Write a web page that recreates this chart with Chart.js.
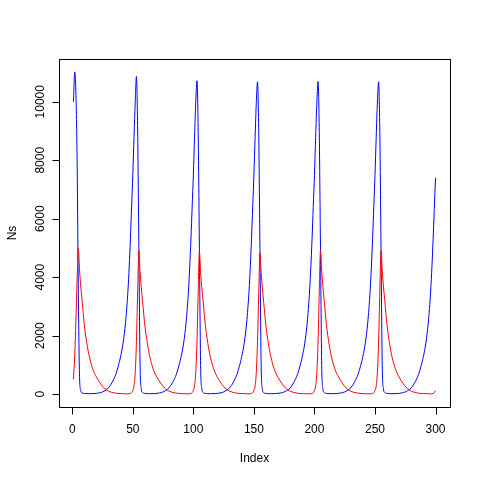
<!DOCTYPE html>
<html>
<head>
<meta charset="utf-8">
<script src="https://cdn.jsdelivr.net/npm/chart.js@4"></script>
<style>
  html, body { margin:0; padding:0; background:#fff; }
  #wrap { width:480px; height:480px; }
</style>
</head>
<body>
<div id="wrap"><canvas id="c" width="480" height="480"></canvas></div>
<script>
// prey (Ns, blue), index -> value
const blueX = [
  1,2,3,4,5,6,7,8,10,14,18,22,25,27,30,33,36,38,40,42,44,45,46,47,48,49,50,51,52,
  53,54,55,56,57,58,60,64,68,72,75,77,80,83,86,88,90,92,94,95,96,97,98,99,100,101,102,
  103,104,105,106,107,108,110,114,118,122,125,127,130,133,136,138,140,142,144,145,146,147,148,149,150,151,152,
  153,154,155,156,157,158,160,164,168,172,175,177,180,183,186,188,190,192,194,195,196,197,198,199,200,201,202,
  203,204,205,206,207,208,210,214,218,222,225,227,230,233,236,238,240,242,244,245,246,247,248,249,250,251,252,
  253,254,255,256,257,258,260,264,268,272,275,277,280,283,286,288,290,292,294,295,296,297,298,299,300
];
const blueY = [
  10000,11020,10300,8000,3500,600,120,45,25,15,20,40,75,120,220,410,680,960,1300,1750,2450,2950,3550,4350,5300,6400,7500,8800,10000,
  10870,9000,5000,1000,180,55,25,15,20,40,75,120,220,410,680,960,1300,1750,2450,2950,3550,4350,5300,6400,7500,8800,10000,
  10720,8950,4950,980,175,55,25,15,20,40,75,120,215,405,675,950,1290,1740,2430,2930,3530,4330,5280,6380,7480,8780,9980,
  10680,8950,4950,980,175,55,25,15,20,40,75,120,215,405,675,950,1290,1740,2430,2930,3530,4330,5280,6380,7480,8780,9990,
  10690,8950,4950,980,175,55,25,15,20,40,75,120,215,405,675,950,1290,1740,2430,2930,3530,4330,5280,6380,7480,8780,9990,
  10680,8950,4950,980,175,55,25,15,20,40,75,120,215,405,675,950,1290,1740,2430,2930,3530,4330,5280,6350,7400
];

// predator (red)
const redX = [
  1,2,3,4,5,6,7,8,10,12,14,17,20,23,26,30,35,40,45,47,48,49,50,51,52,53,54,
  55,56,57,58,60,62,64,67,70,73,76,80,85,90,95,97,98,99,100,101,102,103,104,
  105,106,107,108,110,112,114,117,120,123,126,130,135,140,145,147,148,149,150,151,152,153,154,
  155,156,157,158,160,162,164,167,170,173,176,180,185,190,195,197,198,199,200,201,202,203,204,
  205,206,207,208,210,212,214,217,220,223,226,230,235,240,245,247,248,249,250,251,252,253,254,
  255,256,257,258,260,262,264,267,270,273,276,280,285,290,295,297,298,299,300
];
const redY = [
  504,1300,2500,3900,4985,4250,3700,3250,2350,1750,1300,850,580,380,220,100,40,18,10,12,22,50,120,280,750,1800,3500,
  4920,4200,3650,3200,2330,1740,1290,840,575,375,215,100,40,18,10,12,22,50,120,280,750,1800,3500,
  4870,4180,3640,3190,2320,1730,1280,840,570,370,215,100,40,18,10,12,22,50,120,280,750,1800,3480,
  4835,4160,3620,3180,2310,1725,1280,835,570,370,214,100,40,18,10,12,22,50,120,280,750,1800,3500,
  4925,4230,3680,3230,2340,1740,1290,845,578,378,218,100,40,18,10,12,22,50,120,280,750,1800,3500,
  4925,4230,3680,3230,2340,1740,1290,845,578,378,218,100,40,18,10,12,22,50,120
];

const xTicks = [0, 50, 100, 150, 200, 250, 300];
const yTicks = [0, 2000, 4000, 6000, 8000, 10000];

const pts = (xs, ys) => xs.map((x, i) => ({ x, y: ys[i] }));
const FONT = '12px "Liberation Sans", Arial, sans-serif';

// R-style box, ticks and labels, placed with the chart's scales
const rAxes = {
  id: 'rAxes',
  afterDraw(chart){
    const { ctx, chartArea: a, scales: { x, y } } = chart;
    const L = Math.round(a.left) + 0.5, R = Math.round(a.right) + 0.5;
    const T = Math.round(a.top) + 0.5, B = Math.round(a.bottom) + 0.5;
    ctx.save();
    ctx.strokeStyle = '#000';
    ctx.lineWidth = 1;
    ctx.strokeRect(L, T, R - L, B - T);
    ctx.fillStyle = '#000';
    ctx.font = FONT;

    ctx.beginPath();
    xTicks.forEach(v => {
      const px = Math.round(x.getPixelForValue(v)) + 0.5;
      ctx.moveTo(px, B); ctx.lineTo(px, B + 7);
    });
    yTicks.forEach(v => {
      const py = Math.round(y.getPixelForValue(v)) + 0.5;
      ctx.moveTo(L, py); ctx.lineTo(L - 7, py);
    });
    ctx.stroke();

    ctx.textAlign = 'center';
    ctx.textBaseline = 'alphabetic';
    xTicks.forEach(v => ctx.fillText(String(v), x.getPixelForValue(v), 433));
    yTicks.forEach(v => {
      ctx.save();
      ctx.translate(43.5, y.getPixelForValue(v));
      ctx.rotate(-Math.PI / 2);
      ctx.fillText(String(v), 0, 0);
      ctx.restore();
    });

    ctx.fillText('Index', (a.left + a.right) / 2, 462);
    ctx.save();
    ctx.translate(16, (a.top + a.bottom) / 2);
    ctx.rotate(-Math.PI / 2);
    ctx.fillText('Ns', 0, 0);
    ctx.restore();
    ctx.restore();
  }
};

new Chart(document.getElementById('c').getContext('2d'), {
  type: 'scatter',
  data: {
    datasets: [
      { label: 'pred', data: pts(redX, redY), showLine: true, borderColor: '#ff0000',
        borderWidth: 1, pointRadius: 0, cubicInterpolationMode: 'monotone' },
      { label: 'Ns', data: pts(blueX, blueY), showLine: true, borderColor: '#0000ff',
        borderWidth: 1, pointRadius: 0, cubicInterpolationMode: 'monotone' }
    ]
  },
  options: {
    responsive: false,
    animation: false,
    devicePixelRatio: 1,
    layout: { padding: { left: 59, right: 30, top: 59, bottom: 73 } },
    scales: {
      x: { type: 'linear', display: false, min: -10.96, max: 311.96 },
      y: { type: 'linear', display: false, min: -440, max: 11461 }
    },
    plugins: { legend: { display: false }, tooltip: { enabled: false } }
  },
  plugins: [rAxes]
});
</script>
</body>
</html>
